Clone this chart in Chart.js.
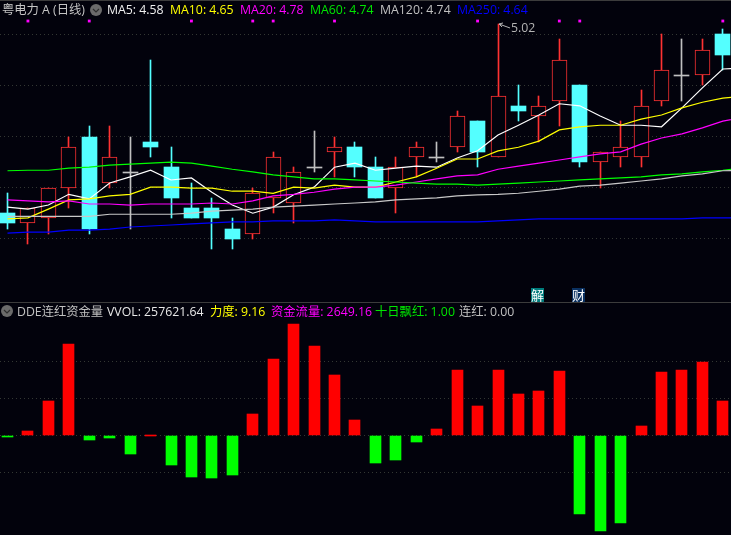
<!DOCTYPE html>
<html>
<head>
<meta charset="utf-8">
<title>粤电力 A</title>
<script src="https://cdn.jsdelivr.net/npm/chart.js@4"></script>
<style>
html, body { margin: 0; padding: 0; background: #02020c; overflow: hidden; }
#wrap { position: relative; width: 731px; height: 535px; background: #02020c; font: 12.3px "Open Sans", "Noto Sans CJK SC", sans-serif; }
#topChart { position: absolute; left: 0; top: 0; }
#subChart { position: absolute; left: 0; top: 303px; }
.line { position: absolute; left: 0; width: 731px; height: 1px; background: #3c3c3c; }
.lbl { position: absolute; white-space: pre; line-height: 16px; }
.btn { position: absolute; width: 12px; height: 12px; border-radius: 6px; background: #6b6b6b; }
.btn svg { position: absolute; left: 0; top: 0; }
.tag { position: absolute; width: 13px; height: 14px; line-height: 14px; text-align: center; color: #fff; font-size: 13px; top: 288px; }
</style>
</head>
<body>
<div id="wrap">
	<canvas id="topChart" width="731" height="302"></canvas>
	<canvas id="subChart" width="731" height="232"></canvas>
	<div class="line" style="top:0"></div>
	<div class="line" style="top:302px"></div>
</div>
<script>
// candles
var opens  = [4.65,4.63,4.64,4.70,4.80,4.71,4.73,4.79,4.74,4.66,4.66,4.62,4.61,4.68,4.67,4.74,4.77,4.78,4.74,4.70,4.76,4.76,4.78,4.83,4.76,4.86,4.84,4.87,4.90,4.75,4.76,4.76,4.87,4.92,4.92,5.00];
var closes = [4.63,4.66,4.70,4.78,4.62,4.76,4.73,4.78,4.68,4.64,4.64,4.60,4.69,4.76,4.73,4.74,4.78,4.74,4.68,4.74,4.78,4.76,4.84,4.77,4.88,4.85,4.86,4.95,4.75,4.77,4.78,4.86,4.93,4.92,4.97,4.96];
var highs  = [4.69,4.66,4.70,4.80,4.82,4.82,4.80,4.95,4.78,4.71,4.68,4.64,4.70,4.77,4.74,4.81,4.80,4.79,4.76,4.76,4.79,4.79,4.85,4.83,5.02,4.90,4.88,4.99,4.90,4.77,4.83,4.89,5.00,4.99,4.99,5.01];
var lows   = [4.62,4.59,4.61,4.66,4.61,4.70,4.62,4.76,4.64,4.64,4.58,4.58,4.60,4.65,4.63,4.73,4.72,4.72,4.68,4.65,4.72,4.75,4.77,4.74,4.76,4.83,4.79,4.82,4.74,4.70,4.74,4.74,4.86,4.87,4.90,4.93];

// moving averages, last point runs off the right edge
var ma5   = [4.662,4.658,4.666,4.687,4.678,4.709,4.721,4.734,4.715,4.719,4.691,4.666,4.650,4.662,4.686,4.701,4.740,4.748,4.734,4.738,4.742,4.740,4.758,4.772,4.803,4.822,4.842,4.864,4.860,4.840,4.822,4.822,4.819,4.856,4.895,4.932,4.934];
var ma10  = [4.639,4.641,4.658,4.676,4.678,4.684,4.687,4.701,4.701,4.699,4.699,4.693,4.693,4.689,4.701,4.699,4.705,4.701,4.701,4.711,4.721,4.738,4.756,4.756,4.772,4.779,4.791,4.813,4.819,4.822,4.822,4.834,4.842,4.856,4.867,4.875,4.879];
var ma20  = [4.676,4.674,4.672,4.674,4.668,4.668,4.666,4.668,4.668,4.668,4.670,4.668,4.674,4.684,4.687,4.691,4.697,4.701,4.701,4.705,4.711,4.717,4.723,4.725,4.736,4.742,4.748,4.754,4.760,4.766,4.770,4.785,4.797,4.805,4.817,4.830,4.838];
var ma60  = [4.733,4.734,4.734,4.738,4.740,4.744,4.746,4.748,4.750,4.748,4.742,4.736,4.731,4.725,4.721,4.717,4.717,4.715,4.713,4.711,4.709,4.707,4.707,4.705,4.707,4.709,4.711,4.713,4.715,4.717,4.719,4.721,4.725,4.727,4.731,4.734,4.738];
var ma120 = [4.644,4.644,4.644,4.644,4.644,4.648,4.648,4.648,4.648,4.650,4.654,4.656,4.658,4.662,4.664,4.666,4.668,4.670,4.672,4.676,4.678,4.680,4.684,4.686,4.687,4.689,4.693,4.697,4.703,4.705,4.709,4.713,4.717,4.723,4.727,4.733,4.734];
var ma250 = [4.611,4.613,4.613,4.617,4.617,4.619,4.623,4.625,4.627,4.629,4.631,4.633,4.633,4.635,4.635,4.635,4.637,4.635,4.633,4.633,4.633,4.633,4.633,4.633,4.635,4.637,4.639,4.639,4.639,4.639,4.639,4.639,4.639,4.639,4.641,4.641,4.641];

// magenta markers above the candles
var signalDays = [1,4,9,12,13,16,23,27,28,35];
var signalLevel = 5.0258;
var priceTicks = [5.00,4.90,4.80,4.70,4.60];
var peakDay = 24;

// lower pane
var vvol = [-2000,14400,92800,246900,-12600,-7200,-47800,3600,-77500,-109900,-115300,-104500,57700,209000,300900,241500,163100,44100,-72100,-64000,-18000,19800,176600,79300,176600,114400,122500,173900,-209900,-255900,-234300,27900,171200,176600,198200,92800];
var vvolTicks = [200000,100000,0,-100000];

// header texts: text, colour, left
var topLabels = [
	["粤电力 A (日线)", "#c4c4c4", 2],
	["MA5: 4.58", "#f0f0f0", 107],
	["MA10: 4.65", "#ffff00", 170],
	["MA20: 4.78", "#ff00ff", 240],
	["MA60: 4.74", "#00e600", 310],
	["MA120: 4.74", "#c0c0c0", 380],
	["MA250: 4.64", "#0000ff", 457]
];
var subLabels = [
	["DDE连红资金量", "#c0c0c0", 17],
	["VVOL: 257621.64", "#e8e8e8", 107],
	["力度: 9.16", "#ffff00", 210],
	["资金流量: 2649.16", "#ff00ff", 271],
	["十日飘红: 1.00", "#00e600", 375],
	["连红: 0.00", "#c0c0c0", 459]
];
var tags = [["解", "#007b7b", 531], ["财", "#0a3060", 572]];

var BG = "#02020c", RED = "#ff3232", CYAN = "#54ffff", GREY = "#c0c0c0";
var xMin = -0.367, xMax = 35.4;

var wrap = document.getElementById("wrap");
function addLabels(list, top) {
	list.forEach(function(l) {
		var s = document.createElement("span");
		s.className = "lbl";
		s.textContent = l[0];
		s.style.color = l[1];
		s.style.left = l[2] + "px";
		s.style.top = top + "px";
		wrap.appendChild(s);
	});
}
function addBtn(x, y) {
	var d = document.createElement("div");
	d.className = "btn";
	d.style.left = x + "px";
	d.style.top = y + "px";
	d.innerHTML = '<svg width="12" height="12"><path d="M3 5 L6 8 L9 5" fill="none" stroke="#2e2e2e" stroke-width="1.2"/></svg>';
	wrap.appendChild(d);
}
addLabels(topLabels, 2);
addLabels(subLabels, 304);
addBtn(90, 4);
addBtn(1, 305);
tags.forEach(function(t) {
	var d = document.createElement("div");
	d.className = "tag";
	d.textContent = t[0];
	d.style.background = t[1];
	d.style.left = t[2] + "px";
	wrap.appendChild(d);
});

function candleColor(i) {
	if (closes[i] > opens[i]) return RED;
	if (closes[i] < opens[i]) return CYAN;
	return GREY;
}
function xy(arr) {
	return arr.map(function(v, i) { return { x: i, y: v }; });
}
function maLine(arr, color) {
	return { type: "line", data: xy(arr), borderColor: color, borderWidth: 1.2, pointRadius: 0, tension: 0, order: 1 };
}
var axisX = { type: "linear", min: xMin, max: xMax, offset: false, display: false };
function axisY(min, max, ticks) {
	return {
		min: min, max: max,
		ticks: { display: false },
		grid: { color: "#333733", drawTicks: false },
		border: { display: false, dash: [1, 3] },
		afterBuildTicks: function(axis) {
			axis.ticks = ticks.map(function(v) { return { value: v }; });
		}
	};
}

// keep bar edges on whole pixels so the 1px wicks stay sharp
var snapBars = {
	id: "snapBars",
	afterDatasetsUpdate: function(chart) {
		chart.getSortedVisibleDatasetMetas().forEach(function(meta) {
			if (meta.type != "bar") return;
			meta.data.forEach(function(el) {
				el.x = Math.floor(el.x) + 0.5;
				el.y = Math.round(el.y);
				el.base = Math.round(el.base);
				if (el.base == el.y) el.base = el.y + 1;
			});
		});
	}
};

// the "5.02" note at the highest price
var peakNote = {
	id: "peakNote",
	afterDatasetsDraw: function(chart) {
		var ctx = chart.ctx;
		var px = chart.scales.x.getPixelForValue(peakDay);
		var py = chart.scales.y.getPixelForValue(highs[peakDay]);
		ctx.save();
		ctx.strokeStyle = "#b4b4b4";
		ctx.fillStyle = "#b4b4b4";
		ctx.lineWidth = 1;
		ctx.beginPath();
		ctx.moveTo(px + 1, py);
		ctx.lineTo(px + 12, py + 4);
		ctx.moveTo(px + 1, py);
		ctx.lineTo(px + 5, py - 1);
		ctx.moveTo(px + 1, py);
		ctx.lineTo(px + 4, py + 3);
		ctx.stroke();
		ctx.font = '12.3px "Open Sans", sans-serif';
		ctx.textBaseline = "middle";
		ctx.fillText(highs[peakDay].toFixed(2), px + 13, py + 5);
		ctx.restore();
	}
};

new Chart(document.getElementById("topChart"), {
	type: "bar",
	data: {
		datasets: [
			{
				data: highs.map(function(h, i) { return { x: i, y: [lows[i], h] }; }),
				barThickness: 1, grouped: false, order: 4,
				backgroundColor: highs.map(function(h, i) { return candleColor(i); }),
				borderWidth: 0
			},
			{
				data: opens.map(function(o, i) { return { x: i, y: [o, closes[i]] }; }),
				barThickness: 15, grouped: false, order: 3,
				backgroundColor: opens.map(function(o, i) { return closes[i] > o ? BG : candleColor(i); }),
				borderColor: opens.map(function(o, i) { return candleColor(i); }),
				borderWidth: opens.map(function(o, i) { return closes[i] > o ? 1 : 0; }),
				borderSkipped: false
			},
			maLine(ma250, "#0000ff"),
			maLine(ma120, "#c8c8c8"),
			maLine(ma60, "#00ff00"),
			maLine(ma20, "#ff00ff"),
			maLine(ma10, "#ffff00"),
			maLine(ma5, "#ffffff"),
			{
				type: "scatter",
				data: signalDays.map(function(d) { return { x: d, y: signalLevel }; }),
				pointStyle: "rect", pointRadius: 2, borderWidth: 0,
				backgroundColor: "#ff00ff", order: 0
			}
		]
	},
	options: {
		responsive: false, animation: false, devicePixelRatio: 1,
		layout: { padding: 0, autoPadding: false },
		plugins: { legend: { display: false }, tooltip: { enabled: false } },
		scales: { x: axisX, y: axisY(4.4764, 5.0669, priceTicks) }
	},
	plugins: [snapBars, peakNote]
});

new Chart(document.getElementById("subChart"), {
	type: "bar",
	data: {
		datasets: [{
			data: xy(vvol),
			barThickness: 11, grouped: false,
			backgroundColor: vvol.map(function(v) { return v >= 0 ? "#ff0000" : "#00ff00"; })
		}]
	},
	options: {
		responsive: false, animation: false, devicePixelRatio: 1,
		layout: { padding: 0, autoPadding: false },
		plugins: { legend: { display: false }, tooltip: { enabled: false } },
		scales: { x: axisX, y: axisY(-268000, 359000, vvolTicks) }
	},
	plugins: [snapBars]
});
</script>
</body>
</html>
